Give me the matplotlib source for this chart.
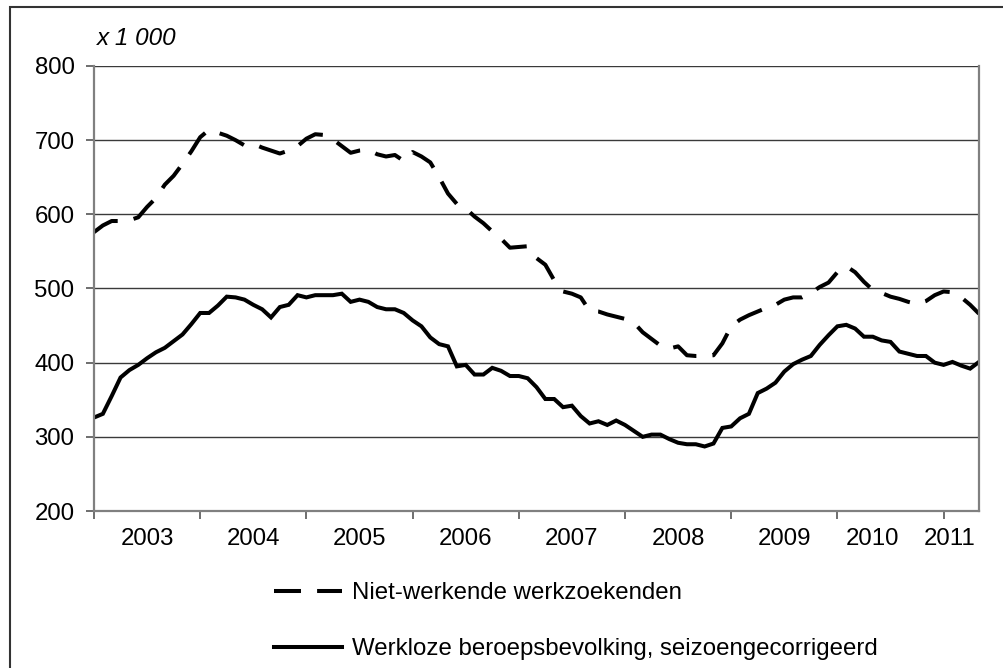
import matplotlib
matplotlib.use("Agg")
import matplotlib.pyplot as plt
from matplotlib.patches import Rectangle
import numpy as np

plt.rcParams['font.family'] = ['Liberation Sans', 'DejaVu Sans']

# Monthly data, January 2003 - May 2011 (x 1 000)
niet_werkende = [576, 585, 591, 591, 592, 596, 610, 622, 640, 652, 668, 685, 704, 714, 710, 706, 700, 693, 695, 690,
                 686, 682, 686, 692, 702, 708, 707, 701, 692, 683, 686, 687, 681, 678, 680, 672, 684, 678, 670, 650,
                 628, 614, 608, 597, 588, 577, 567, 555, 556, 557, 541, 532, 511, 496, 493, 488, 470, 469, 465, 462,
                 459, 454, 441, 432, 423, 419, 422, 410, 409, 409, 410, 426, 449, 458, 464, 469, 474, 478, 485, 488,
                 488, 494, 502, 508, 522, 530, 522, 509, 498, 494, 489, 486, 482, 479, 483, 491, 496, 495, 488, 478,
                 466]
werkloze = [326, 331, 355, 380, 390, 397, 406, 414, 420, 429, 438, 452, 467, 467, 477, 489, 488, 485, 478, 472,
            461, 475, 478, 491, 488, 491, 491, 491, 493, 482, 485, 482, 475, 472, 472, 467, 457, 449, 434, 425,
            422, 395, 397, 384, 384, 393, 389, 382, 382, 379, 367, 351, 351, 340, 342, 328, 318, 321, 316, 322,
            316, 308, 300, 303, 303, 297, 292, 290, 290, 287, 291, 312, 314, 325, 331, 359, 365, 373, 388, 398,
            404, 409, 424, 437, 449, 451, 446, 435, 435, 430, 428, 415, 412, 409, 409, 400, 397, 401, 396, 392,
            401]
year_labels = ['2003', '2004', '2005', '2006', '2007', '2008', '2009', '2010', '2011']
year_label_pos = [6, 18, 30, 42, 54, 66, 78, 88, 96.7]
year_ticks = [0, 12, 24, 36, 48, 60, 72, 84, 96]
y_ticks = [200, 300, 400, 500, 600, 700, 800]
series_names = ['Niet-werkende werkzoekenden', 'Werkloze beroepsbevolking, seizoengecorrigeerd']

months = np.arange(len(werkloze))

W, H = 1004, 668
fig = plt.figure(figsize=(W / 100, H / 100), dpi=100)
fig.patch.set_facecolor('white')
ax = fig.add_axes([94 / W, 1 - 511 / H, (979 - 94) / W, (511 - 66) / H])

ax.plot(months, niet_werkende, color='black', lw=2.9, linestyle=(0, (6.7, 4.0)),
        label=series_names[0], solid_joinstyle='miter')
ax.plot(months, werkloze, color='black', lw=2.9, label=series_names[1], solid_joinstyle='miter')

ax.set_xlim(0, 100)
ax.set_ylim(200, 800)
ax.set_yticks(y_ticks)
ax.set_yticklabels([str(v) for v in y_ticks])
ax.yaxis.grid(True, color='#3a3a3a', lw=1.0)
ax.set_axisbelow(True)

ax.set_xticks(year_ticks)
ax.set_xticklabels([''] * len(year_ticks))
ax.set_xticks(year_label_pos, minor=True)
ax.set_xticklabels(year_labels, minor=True)
ax.tick_params(axis='x', which='major', length=5.5, width=1.2, color='#555555', direction='out')
ax.tick_params(axis='x', which='minor', length=0, pad=12, labelsize=17.3)
ax.tick_params(axis='y', length=6, width=1.2, color='#555555', direction='out', pad=8, labelsize=17.3)

for side in ['left', 'bottom', 'right']:
    ax.spines[side].set_color('#808080')
    ax.spines[side].set_linewidth(1.6)
ax.spines['top'].set_visible(False)

fig.text(97 / W, 1 - 45 / H, 'x 1 000', fontsize=17.5, style='italic', ha='left', va='baseline')

handles, labels = ax.get_legend_handles_labels()
fig.legend(handles, labels, loc='upper left', bbox_to_anchor=(274 / W, 1 - 582 / H),
           frameon=False, borderpad=0, borderaxespad=0, handlelength=2.85, handletextpad=0.4,
           labelspacing=1.42, fontsize=17.3)

border = Rectangle((10 / W, -0.1), 1.2, (1 - 7 / H) + 0.1, transform=fig.transFigure,
                   fill=False, edgecolor='#333333', lw=1.5, clip_on=False)
fig.add_artist(border)

fig.savefig('out.png', dpi=100, facecolor='white')
